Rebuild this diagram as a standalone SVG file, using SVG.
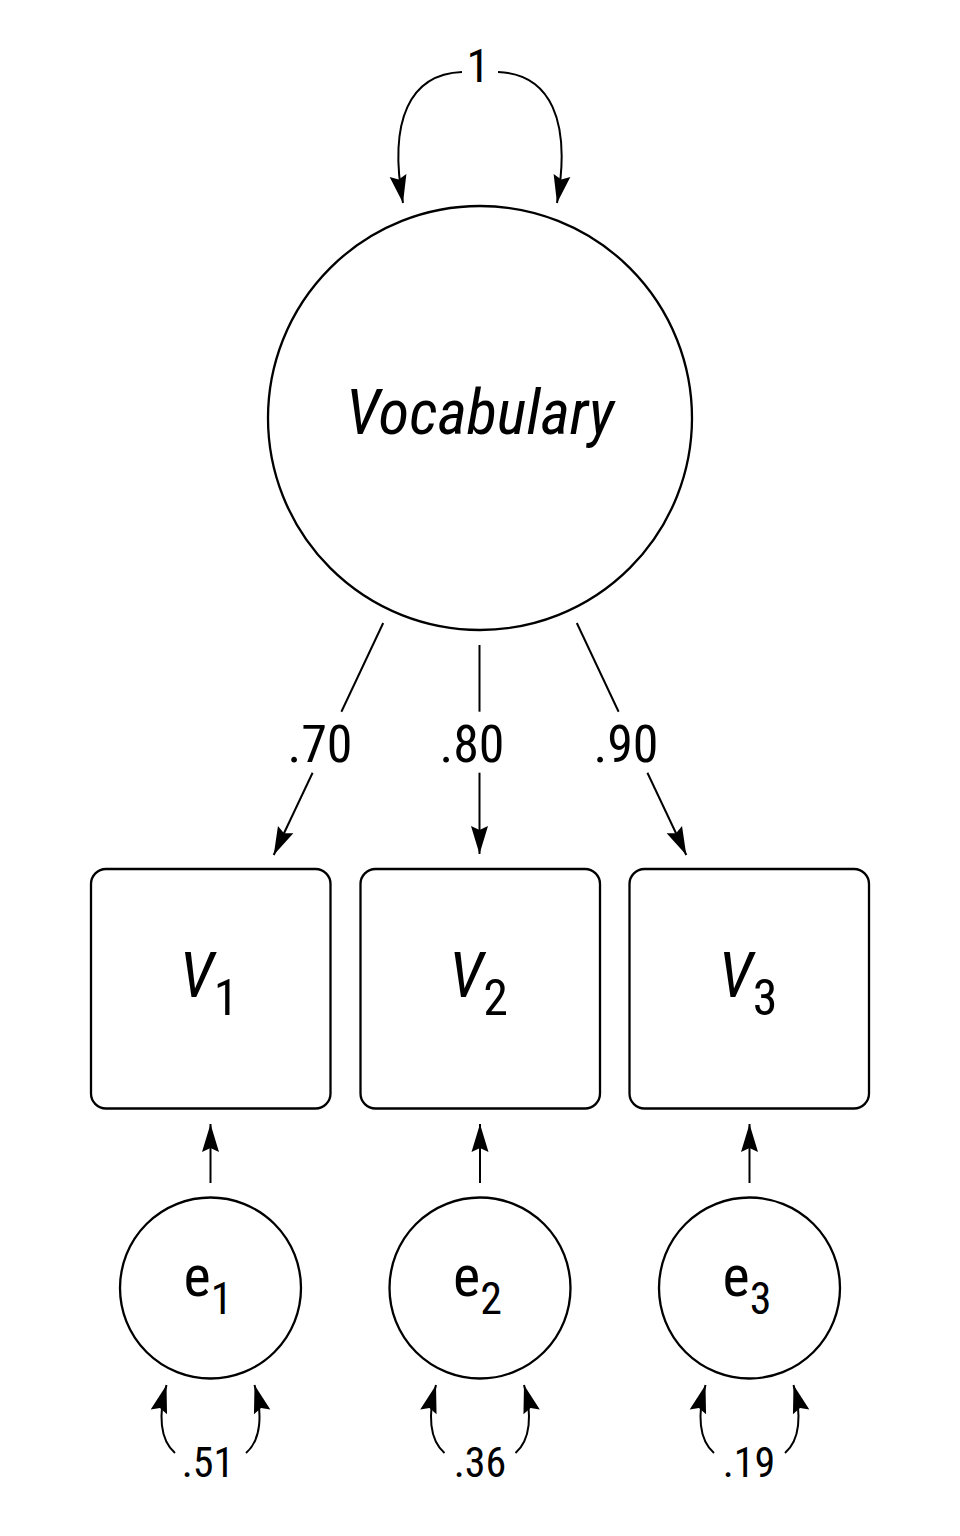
<svg xmlns="http://www.w3.org/2000/svg" width="960" height="1536" viewBox="0 0 960 1536">
<style>
  .shape { fill: #ffffff; stroke: #000000; stroke-width: 2.3; }
  .edge { fill: none; stroke: #000000; stroke-width: 2; }
  .arr { marker-end: url(#ah); }
  text { font-family: "Roboto Condensed", Roboto, "Liberation Sans", sans-serif; font-stretch: condensed; fill: #000000; }
  .lbl { font-size: 52px; text-anchor: middle; }
  .var { font-size: 42px; text-anchor: middle; }
  .vname { font-size: 63px; text-anchor: middle; }
  .ename { font-size: 58px; text-anchor: middle; }
  .it { font-style: italic; }
</style>
<defs>
  <marker id="ah" markerUnits="userSpaceOnUse" markerWidth="30" markerHeight="20" refX="28" refY="10" orient="auto" overflow="visible">
    <path d="M0,1.5 L28,10 L0,18.5 L4,10 Z" fill="#000000"/>
  </marker>
</defs>
<rect width="960" height="1536" fill="#ffffff"/>
<g id="connectors">
  <path class="edge arr" d="M462,72 C410,74 388,120 403,203"/>
  <path class="edge arr" d="M498,72 C550,74 572,120 557,203"/>
  <line class="edge" x1="383.2" y1="623" x2="341.4" y2="711.7"/>
  <line class="edge arr" x1="312.6" y1="772.7" x2="273.7" y2="855"/>
  <line class="edge" x1="479.5" y1="645" x2="479.5" y2="711.7"/>
  <line class="edge arr" x1="479.5" y1="772.7" x2="479.5" y2="854"/>
  <line class="edge" x1="576.8" y1="623" x2="618.6" y2="711.7"/>
  <line class="edge arr" x1="647.4" y1="772.7" x2="686.3" y2="855"/>
  <line class="edge arr" x1="210.5" y1="1183" x2="210.5" y2="1124"/>
  <line class="edge arr" x1="480" y1="1183" x2="480" y2="1124"/>
  <line class="edge arr" x1="749.5" y1="1183" x2="749.5" y2="1124"/>
  <path class="edge arr" d="M175,1453 C160,1440 158,1415 166.5,1385"/>
  <path class="edge arr" d="M246,1453 C261,1440 263,1415 254.5,1385"/>
  <path class="edge arr" d="M444.5,1453 C429.5,1440 427.5,1415 436,1385"/>
  <path class="edge arr" d="M515.5,1453 C530.5,1440 532.5,1415 524,1385"/>
  <path class="edge arr" d="M714,1453 C699,1440 697,1415 705.5,1385"/>
  <path class="edge arr" d="M785,1453 C800,1440 802,1415 793.5,1385"/>
  <text class="lbl" x="478" y="81.7" style="font-size:47px">1</text>
  <text class="lbl" x="320" y="762">.70</text>
  <text class="lbl" x="472" y="762">.80</text>
  <text class="lbl" x="626" y="762">.90</text>
  <text class="var" x="208" y="1477">.51</text>
  <text class="var" x="480" y="1477">.36</text>
  <text class="var" x="749" y="1477">.19</text>
</g>
<g id="Vocabulary">
  <circle class="shape" cx="480" cy="418" r="212"/>
  <text class="it" x="480" y="434" style="font-size:63px;text-anchor:middle">Vocabulary</text>
</g>
<g id="V1">
  <rect class="shape" x="91" y="869" width="239.5" height="239.5" rx="15"/>
  <text class="vname" x="209" y="997"><tspan class="it">V</tspan><tspan font-size="50" dy="18">1</tspan></text>
</g>
<g id="V2">
  <rect class="shape" x="360.5" y="869" width="239.5" height="239.5" rx="15"/>
  <text class="vname" x="478.5" y="997"><tspan class="it">V</tspan><tspan font-size="50" dy="18">2</tspan></text>
</g>
<g id="V3">
  <rect class="shape" x="629.5" y="869" width="239.5" height="239.5" rx="15"/>
  <text class="vname" x="748" y="997"><tspan class="it">V</tspan><tspan font-size="50" dy="18">3</tspan></text>
</g>
<g id="e1">
  <circle class="shape" cx="210.5" cy="1288" r="90.5"/>
  <text class="ename" x="208" y="1296"><tspan>e</tspan><tspan font-size="44" dy="18">1</tspan></text>
</g>
<g id="e2">
  <circle class="shape" cx="480" cy="1288" r="90.5"/>
  <text class="ename" x="477.5" y="1296"><tspan>e</tspan><tspan font-size="44" dy="18">2</tspan></text>
</g>
<g id="e3">
  <circle class="shape" cx="749.5" cy="1288" r="90.5"/>
  <text class="ename" x="747" y="1296"><tspan>e</tspan><tspan font-size="44" dy="18">3</tspan></text>
</g>
</svg>
